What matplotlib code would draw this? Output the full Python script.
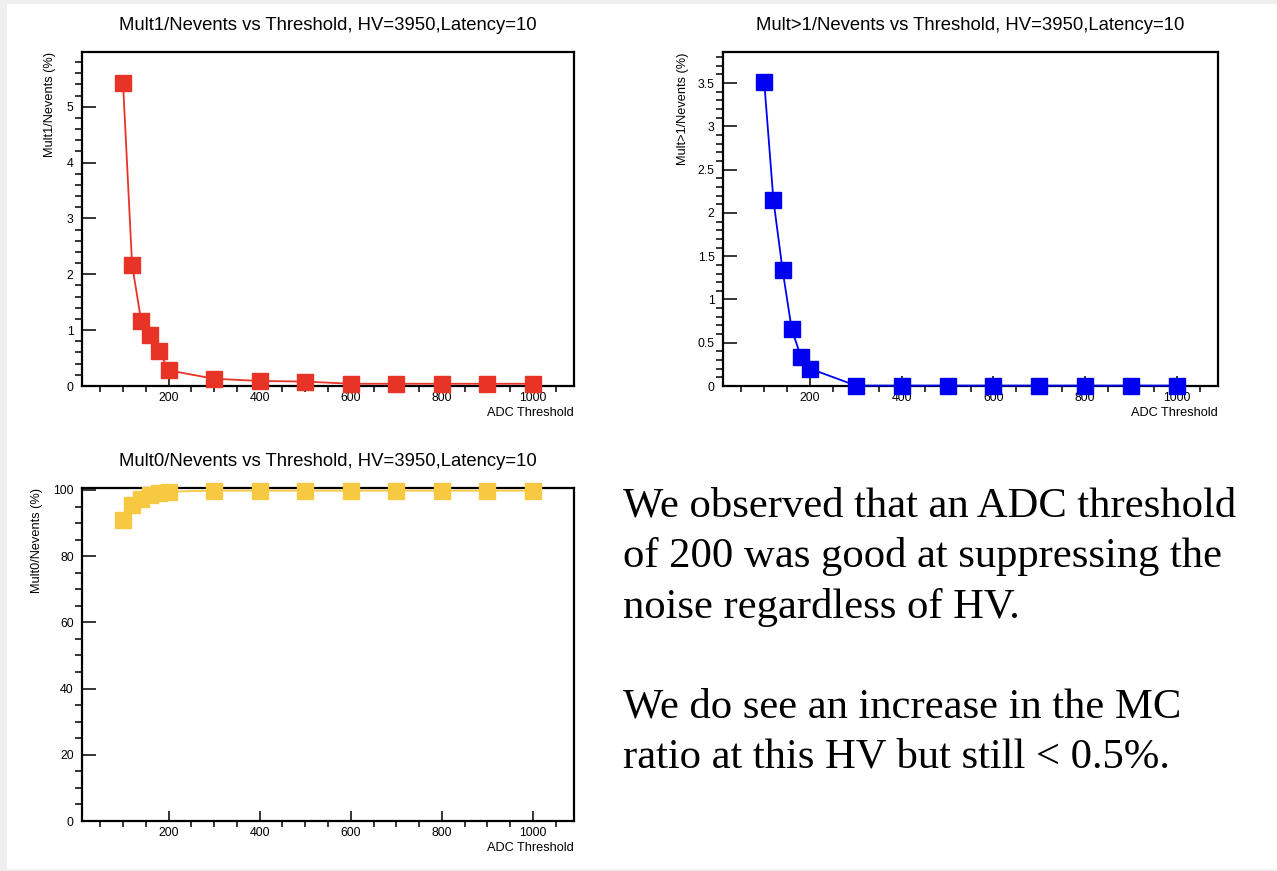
import matplotlib
matplotlib.use("Agg")
import matplotlib.pyplot as plt
from matplotlib.patches import Rectangle
from matplotlib.ticker import MultipleLocator

# Data
threshold = [100, 120, 140, 160, 180, 200, 300, 400, 500, 600, 700, 800, 900, 1000]
mult1 = [5.43, 2.17, 1.16, 0.905, 0.625, 0.28, 0.13, 0.09, 0.08, 0.04, 0.04, 0.04, 0.04, 0.04]
mult_gt1 = [3.51, 2.15, 1.34, 0.654, 0.34, 0.20, 0.005, 0.005, 0.005, 0.005, 0.005, 0.005, 0.005, 0.005]
mult0 = [90.8, 95.5, 97.2, 98.5, 99.0, 99.5, 99.8, 99.8, 99.8, 99.8, 99.8, 99.8, 99.8, 99.8]

titles = ["Mult1/Nevents vs Threshold, HV=3950,Latency=10",
          "Mult>1/Nevents vs Threshold, HV=3950,Latency=10",
          "Mult0/Nevents vs Threshold, HV=3950,Latency=10"]
ylabels = ["Mult1/Nevents (%)", "Mult>1/Nevents (%)", "Mult0/Nevents (%)"]
note = ("We observed that an ADC threshold\n"
        "of 200 was good at suppressing the\n"
        "noise regardless of HV.\n"
        "\n"
        "We do see an increase in the MC\n"
        "ratio at this HV but still < 0.5%.")

W, H = 1277, 871
plt.rcParams['font.family'] = ['Liberation Sans', 'DejaVu Sans']

fig = plt.figure(figsize=(W / 100, H / 100), dpi=100, facecolor='#efefef')
fig.patches.append(Rectangle((7 / W, 2 / H), 1, 1 - 6 / H, transform=fig.transFigure,
                             facecolor='white', edgecolor='none', zorder=-10))


def px_axes(left, top, right, bottom):
    return fig.add_axes([left / W, 1 - bottom / H, (right - left) / W, (bottom - top) / H])


def root_panel(ax, y, color, title, ylabel, ymax, major, minor, ylab_x):
    ax.plot(threshold, y, color=color, lw=1.3, marker='s', ms=11, mec=color, mfc=color,
            clip_on=False, zorder=5)
    ax.set_xlim(10, 1090)
    ax.set_ylim(0, ymax)
    ax.xaxis.set_major_locator(MultipleLocator(200))
    ax.xaxis.set_minor_locator(MultipleLocator(50))
    ax.yaxis.set_major_locator(MultipleLocator(major))
    ax.yaxis.set_minor_locator(MultipleLocator(minor))
    ax.tick_params(axis='both', direction='in', labelsize=8.8, width=1.1, colors='black')
    ax.tick_params(axis='x', which='major', length=7, pad=4)
    ax.tick_params(axis='x', which='minor', length=4, width=1.1)
    ax.tick_params(axis='y', which='major', length=10, pad=6)
    ax.tick_params(axis='y', which='minor', length=5, width=1.1)
    ax.yaxis.set_major_formatter(matplotlib.ticker.FuncFormatter(lambda v, p: f"{v:g}"))
    for s in ax.spines.values():
        s.set_linewidth(1.6)
    h = ax.bbox.height
    ax.text(0.5, 1 + 27 / h, title, transform=ax.transAxes, ha='center', va='center',
            fontsize=13.3)
    ax.set_xlabel("ADC Threshold", fontsize=9.2, ha='right', va='center')
    ax.xaxis.set_label_coords(1, -27 / h)
    ax.set_ylabel(ylabel, fontsize=9.2, ha='right', va='center', rotation_mode='anchor')
    ax.yaxis.set_label_coords(ylab_x, 1)


ax1 = px_axes(82, 52, 574, 386)
root_panel(ax1, mult1, '#e83327', titles[0], ylabels[0], 5.98, 1, 0.2, -0.065)

ax2 = px_axes(723, 52, 1218, 386)
root_panel(ax2, mult_gt1, '#0000f0', titles[1], ylabels[1], 3.86, 0.5, 0.1, -0.081)

ax3 = px_axes(82, 488, 574, 821)
root_panel(ax3, mult0, '#f7c842', titles[2], ylabels[2], 100.6, 20, 5, -0.091)

fig.text(623 / W, 1 - 487 / H, note, ha='left', va='top', fontsize=30.7,
         family='Liberation Serif', linespacing=1.39)

fig.savefig("out.png", dpi=100, facecolor=fig.get_facecolor())
